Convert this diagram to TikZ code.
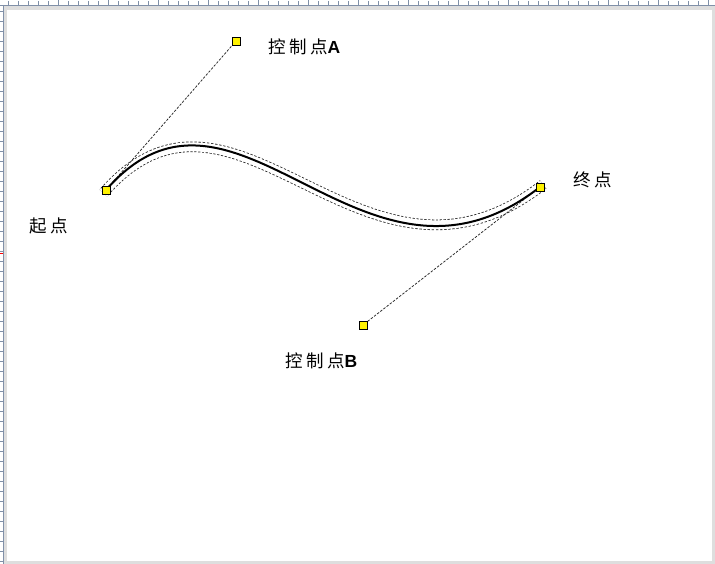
\documentclass[tikz,border=0pt]{standalone}
\usepackage{fontspec}
\newfontfamily\cjk[LetterSpace=20]{Noto Sans CJK SC}
\newfontfamily\latinsans{Liberation Sans}
\usetikzlibrary{math}

\definecolor{rulerblue}{RGB}{128,144,168}
\definecolor{bandgrey}{RGB}{222,222,222}

\tikzset{
  handle/.style={draw=black, fill=yellow, line width=0.8pt, minimum size=8pt, inner sep=0pt},
  handleline/.style={black!85, line width=0.75pt, dash pattern=on 2.5pt off 1.5pt},
  outline/.style={shorten <=-4pt, shorten >=-4pt},
  pointlabel/.style={inner sep=0pt, font=\fontsize{17.5}{17.5}\selectfont}
}

\begin{document}
\begin{tikzpicture}[x=1pt, y=-1pt]
\useasboundingbox (0,0) rectangle (715,564);

\tikzmath{
\sx = 106; \sy = 190;
\ax = 236; \ay = 41;
\bx = 363; \by = 325;
\ex = 540; \ey = 187;
}

% frame and rulers
\fill[white] (0,0) rectangle (715,564);
\fill[bandgrey] (3,5) rectangle (715,10);
\fill[bandgrey] (3,5) rectangle (7,564);
\fill[bandgrey] (712,5) rectangle (715,564);
\fill[bandgrey] (3,561) rectangle (715,564);
\draw[rulerblue, line width=0.8pt] (0,5) -- (715,5);
\draw[rulerblue, line width=0.8pt] (3,5) -- (3,564);
\foreach \i in {0,...,70} {
  \pgfmathsetmacro{\tx}{8+10*\i}
  \draw[rulerblue, line width=0.7pt] (\tx,5) -- (\tx,1.5);
}
\foreach \i in {0,...,13} {
  \draw[rulerblue, line width=0.7pt] (58+50*\i,5) -- (58+50*\i,0);
}
\foreach \i in {0,...,55} {
  \pgfmathsetmacro{\ty}{11+10*\i}
  \draw[rulerblue, line width=0.7pt] (3,\ty) -- (0,\ty);
}
\draw[red, line width=0.8pt] (3,253) -- (0,253);

% points
\node[handle] (start) at (\sx,\sy) {};
\node[handle] (ctrlA) at (\ax,\ay) {};
\node[handle] (ctrlB) at (\bx,\by) {};
\node[handle] (endpt) at (\ex,\ey) {};

% dashed outline round the curve
\draw[outline, black!85, line width=10.6pt]
  (start.center) .. controls (ctrlA.center) and (ctrlB.center) .. (endpt.center);
\draw[outline, white, line width=9pt]
  (start.center) .. controls (ctrlA.center) and (ctrlB.center) .. (endpt.center);
\draw[outline, white, line width=12pt, dash pattern=on 1.5pt off 2.5pt]
  (start.center) .. controls (ctrlA.center) and (ctrlB.center) .. (endpt.center);

% handles
\draw[handleline] (start.center) -- (ctrlA);
\draw[handleline] (endpt.center) -- (ctrlB);

% curve
\draw[black, line width=2pt]
  (start.center) .. controls (ctrlA.center) and (ctrlB.center) .. (endpt.center);

% redraw handles on top
\node[handle] at (start) {};
\node[handle] at (ctrlA) {};
\node[handle] at (ctrlB) {};
\node[handle] at (endpt) {};

%labels
\node[pointlabel, anchor=west] (labelA) at (268,47) {\cjk 控制点{\latinsans\bfseries A}};
\node[pointlabel, anchor=west] (labelB) at (285,361) {\cjk 控制点{\latinsans\bfseries B}};
\node[pointlabel, anchor=west] (labelS) at (29,226) {\cjk 起点};
\node[pointlabel, anchor=west] (labelE) at (573,180) {\cjk 终点};

\end{tikzpicture}
\end{document}
